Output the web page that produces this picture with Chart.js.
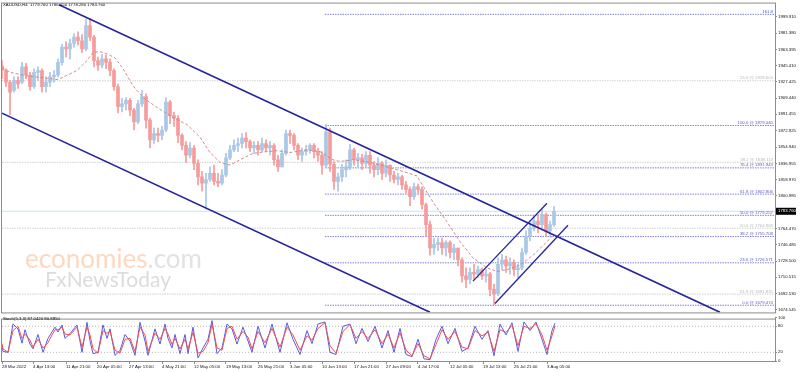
<!DOCTYPE html>
<html>
<head>
<meta charset="utf-8">
<script src="https://cdn.jsdelivr.net/npm/chart.js@4.4.0/dist/chart.umd.min.js"></script>
<style>
  html, body { margin: 0; padding: 0; background: #fff; }
  #wrap { position: relative; width: 800px; height: 372px; overflow: hidden; }
  #main { position: absolute; left: 0; top: 0; }
  #stoch { position: absolute; left: 0; top: 314px; }
</style>
</head>
<body>
<div id="wrap">
  <canvas id="main" width="800" height="316"></canvas>
  <canvas id="stoch" width="800" height="58"></canvas>
</div>
<script>
// XAUUSD H4, one candle here = 4 bars of the original chart
var opens = [1945,1940,1927,1918,1929,1927,1944,1935,1922,1938,
  1940,1922,1927,1933,1935,1949,1966,1964,1970,1977,
  1973,1964,1990,1977,1951,1946,1953,1949,1940,1922,
  1900,1903,1907,1896,1883,1903,1911,1885,1863,1870,
  1868,1874,1905,1890,1887,1868,1857,1846,1854,1837,
  1822,1815,1819,1826,1817,1815,1824,1843,1852,1857,
  1859,1865,1861,1854,1857,1852,1859,1854,1857,1841,
  1833,1848,1870,1868,1857,1846,1850,1852,1857,1850,
  1846,1835,1872,1836,1817,1822,1830,1833,1852,1841,
  1843,1837,1846,1835,1830,1837,1826,1835,1824,1819,
  1822,1813,1808,1800,1811,1808,1791,1769,1743,1747,
  1749,1743,1749,1738,1743,1730,1712,1708,1716,1714,
  1719,1712,1714,1697,1692,1725,1730,1723,1727,1719,
  1721,1738,1756,1765,1773,1769,1780,1762,1769];
var highs = [1951,1942,1929,1933,1933,1949,1948,1938,1942,1944,
  1942,1933,1938,1940,1953,1969,1972,1975,1981,1983,
  1980,1997,1998,1979,1955,1958,1957,1953,1942,1925,
  1909,1910,1909,1898,1907,1918,1914,1887,1876,1876,
  1878,1910,1907,1894,1890,1870,1861,1860,1857,1841,
  1828,1826,1833,1835,1826,1830,1848,1857,1863,1865,
  1870,1871,1863,1861,1861,1865,1863,1861,1859,1846,
  1852,1874,1874,1870,1859,1854,1857,1859,1859,1854,
  1850,1880,1876,1839,1826,1836,1841,1858,1854,1848,
  1847,1850,1850,1839,1843,1839,1841,1835,1828,1826,
  1824,1817,1811,1815,1814,1811,1793,1773,1754,1754,
  1754,1751,1751,1747,1743,1732,1721,1721,1725,1723,
  1721,1719,1716,1703,1732,1736,1734,1732,1730,1725,
  1743,1762,1771,1778,1780,1786,1782,1773,1789];
var lows = [1931,1922,1891,1916,1920,1925,1931,1918,1920,1929,
  1916,1916,1922,1927,1933,1946,1955,1953,1966,1968,
  1960,1962,1973,1944,1940,1943,1942,1934,1918,1893,
  1894,1896,1890,1874,1881,1900,1876,1854,1859,1861,
  1863,1872,1881,1878,1860,1852,1838,1843,1830,1813,
  1806,1786,1817,1813,1811,1813,1822,1841,1850,1850,
  1854,1854,1850,1848,1846,1850,1850,1846,1835,1828,
  1833,1846,1859,1852,1841,1839,1846,1848,1843,1839,
  1825,1833,1828,1808,1806,1817,1822,1830,1835,1833,
  1830,1833,1826,1822,1824,1819,1822,1817,1815,1813,
  1808,1804,1790,1797,1804,1786,1756,1735,1736,1740,
  1736,1734,1732,1730,1723,1705,1699,1703,1708,1710,
  1708,1705,1690,1680,1690,1719,1716,1714,1712,1710,
  1719,1736,1751,1762,1760,1765,1756,1756,1767];
var closes = [1940,1927,1916,1929,1925,1944,1935,1922,1938,1940,
  1922,1927,1933,1935,1949,1966,1964,1970,1977,1973,
  1964,1990,1977,1951,1946,1953,1949,1940,1922,1900,
  1903,1907,1896,1883,1903,1911,1885,1863,1870,1868,
  1874,1905,1890,1887,1868,1857,1846,1854,1837,1822,
  1815,1819,1826,1817,1815,1824,1843,1852,1857,1859,
  1865,1861,1854,1857,1852,1859,1854,1857,1841,1833,
  1848,1870,1868,1857,1846,1850,1852,1857,1850,1846,
  1835,1872,1836,1817,1822,1830,1833,1852,1841,1843,
  1837,1846,1835,1830,1837,1826,1835,1824,1819,1822,
  1813,1808,1800,1811,1808,1791,1769,1743,1747,1749,
  1743,1749,1738,1743,1730,1712,1708,1716,1714,1719,
  1712,1714,1697,1692,1725,1730,1723,1727,1719,1721,
  1738,1756,1765,1773,1769,1780,1762,1769,1783.76];

// moving average (dashed), sampled along the line: bar index / price
var maBars = [0,8,25,41,55,60,75,85,91,98,106,113,121,131,141,155,171,185,198,208,218,228,238,251,265,275,288,305,318,
  331,338,351,368,385,401,415,421,431,445,458,471,485,495,505,518,531,545,550];
var maValues = [1943,1938,1934,1932,1930,1932,1940,1951,1960,1961,1958,1954,1942,1923,1910,1899,1888,1880,1866,1849,1838,1835,1841,1848,1850,1851,1849,1852,1850,
  1841,1839,1841,1838,1833,1828,1823,1812,1794,1772,1750,1732,1721,1717,1719,1724,1735,1750,1756];

// stochastic (5,3,3)
var stochBars = [0,1,6,11,16,20,23,28,31,36,41,46,50,53,56,60,63,68,75,80,85,88,91,96,101,105,108,113,118,123,128,133,138,143,146,153,158,163,166,170,173,178,183,186,191,196,201,206,210,215,220,225,230,235,241,246,
  250,256,263,270,278,285,291,298,305,310,316,323,328,334,341,348,354,360,366,373,380,386,392,398,404,410,416,422,428,434,440,446,453,460,466,473,480,486,492,498,504,510,516,522,528,534,540,545,550,553];
var stochK = [35,22,20,85,74,41,72,39,28,61,20,52,67,78,67,83,52,63,83,20,89,46,17,20,83,52,74,13,24,61,46,13,89,46,13,74,39,85,52,30,61,17,61,17,78,7,30,50,93,17,30,85,74,39,78,46,
  20,80,30,85,20,88,50,15,70,40,85,90,20,15,80,85,40,75,45,80,30,70,20,75,15,10,50,5,3,50,80,40,75,22,30,80,50,70,12,85,60,88,22,90,70,90,50,15,70,87.04];
var stochD = [40,28,20,70,80,52,62,48,32,50,30,42,60,72,72,78,62,60,78,32,78,60,28,18,70,64,68,25,18,50,52,22,78,60,22,64,50,75,62,38,52,28,50,28,66,18,22,42,85,30,25,75,80,50,68,55,
  28,68,42,75,32,78,60,25,58,48,75,88,35,18,68,84,52,68,52,72,40,62,30,65,25,12,40,12,5,38,72,50,68,32,28,70,58,66,22,72,66,82,35,80,75,86,60,25,58,80.885];
var stochLevels = [20, 80];

// trend lines [bar, price]
var downUpper = [[57, 2012.9], [718, 1671.6]];
var downLower = [[0, 1892.7], [428, 1671.8]];
var upLower = [[493, 1681.4], [566, 1768.2]];
var upUpper = [[471, 1706.2], [545, 1792.7]];

// fibonacci levels
var fibLevels = ['0.0', '23.6', '38.2', '50.0', '61.8', '76.4', '100.0', '161.8'];
var fibPrices = [1679.474, 1726.571, 1755.708, 1779.257, 1802.806, 1831.943, 1879.040, 2002.372];
var fibStartBar = 323;
var grayLevels = ['23.6', '38.2', '50.0', '61.8'];
var grayPrices = [1928.604, 1838.113, 1764.969, 1691.835];

var priceTicks = [1999.910, 1981.380, 1963.395, 1945.410, 1927.425, 1909.440, 1891.455, 1872.925, 1854.940, 1836.955,
  1818.970, 1800.985, 1764.470, 1746.485, 1728.500, 1710.515, 1692.530, 1674.545];
var lastPrice = 1783.760;
var tickBars = [0, 31, 64, 95, 127, 160, 192, 224, 256, 288, 320, 352, 384, 416, 448, 481, 512, 545];
var dateLabels = ['28 Mar 2022', '4 Apr 13:00', '11 Apr 21:00', '20 Apr 05:00', '27 Apr 13:00', '4 May 21:00',
  '12 May 05:00', '19 May 13:00', '26 May 21:00', '3 Jun 05:00', '10 Jun 13:00', '17 Jun 21:00', '27 Jun 09:00',
  '4 Jul 17:00', '12 Jul 05:00', '19 Jul 13:00', '26 Jul 21:00', '3 Aug 05:00'];

var X_MAX = 773;
var Y_MIN = 1671.5, Y_MAX = 2014.3;
var UP = '#a9c7e6', DOWN = '#f79a9a';
var NAVY = '#26269a', FIB_BLUE = '#8282da', FIB_GRAY = '#d0d0d0';
var FONT = '"Liberation Sans", Arial, sans-serif';

function pts(pairs) {
  return pairs.map(function (p) { return { x: p[0], y: p[1] }; });
}
function lineDs(data, color, width, dash, order) {
  return { type: 'line', data: data, borderColor: color, borderWidth: width, borderDash: dash || [],
    pointRadius: 0, fill: false, tension: 0, order: order };
}

var candleColors = opens.map(function (o, i) { return closes[i] >= o ? UP : DOWN; });
var wickData = highs.map(function (h, i) { return { x: i * 4, y: [lows[i], h] }; });
var bodyData = opens.map(function (o, i) { return { x: i * 4, y: [o, closes[i]] }; });

var datasets = [
  lineDs(pts(downUpper), NAVY, 1.6, [], 0),
  lineDs(pts(downLower), NAVY, 1.6, [], 0),
  lineDs(pts(upLower), NAVY, 1.3, [], 0),
  lineDs(pts(upUpper), NAVY, 1.3, [], 0),
  lineDs(maBars.map(function (b, i) { return { x: b, y: maValues[i] }; }), '#c88282', 0.9, [3, 2], 1),
  { type: 'bar', data: bodyData, backgroundColor: candleColors, barThickness: 3, grouped: false, borderWidth: 0, order: 2 },
  { type: 'bar', data: wickData, backgroundColor: candleColors, barThickness: 1, grouped: false, borderWidth: 0, order: 3 },
  lineDs([{ x: 0, y: lastPrice }, { x: X_MAX, y: lastPrice }], '#bfe6ee', 1, [], 4)
];
fibPrices.forEach(function (p) {
  datasets.push(lineDs([{ x: fibStartBar, y: p }, { x: X_MAX, y: p }], FIB_BLUE, 1, [1.5, 1], 5));
});
grayPrices.forEach(function (p) {
  datasets.push(lineDs([{ x: 0, y: p }, { x: X_MAX, y: p }], FIB_GRAY, 1, [1.5, 1], 6));
});

// watermark behind the candles
var watermark = {
  id: 'watermark',
  beforeDatasetsDraw: function (chart) {
    var ctx = chart.ctx;
    ctx.save();
    ctx.textBaseline = 'alphabetic';
    ctx.textAlign = 'left';
    ctx.font = '26px Lato';
    ctx.fillStyle = '#fdd8c0';
    ctx.fillText('economies', 25, 268);
    var w = ctx.measureText('economies').width;
    ctx.fillStyle = '#e2e2e2';
    ctx.fillText('.com', 25 + w, 268);
    ctx.font = '21px Lato';
    ctx.fillStyle = '#dcdcdc';
    ctx.fillText('FxNewsToday', 45, 287);
    ctx.restore();
  }
};

var mainDecor = {
  id: 'mainDecor',
  afterDraw: function (chart) {
    var ctx = chart.ctx, ca = chart.chartArea, y = chart.scales.y;
    ctx.save();
    ctx.font = '4.3px ' + FONT;
    ctx.textAlign = 'right';
    ctx.textBaseline = 'bottom';
    fibPrices.forEach(function (p, i) {
      var txt = fibLevels[i] === '161.8' ? '161.8' : fibLevels[i] + ' @ ' + p.toFixed(3);
      ctx.fillStyle = '#5a5ac4';
      ctx.fillText(txt, ca.right - 2, y.getPixelForValue(p) - 0.5);
    });
    grayPrices.forEach(function (p, i) {
      ctx.fillStyle = '#b8b8b8';
      ctx.fillText(grayLevels[i] + ' @ ' + p.toFixed(3), ca.right - 2, y.getPixelForValue(p) - 0.5);
    });
    // header
    ctx.textAlign = 'left';
    ctx.textBaseline = 'middle';
    ctx.fillStyle = '#000';
    ctx.fillText('XAUUSD,H4  1779.760 1786.050 1778.280 1783.760', 3, 5);
    // frame
    ctx.strokeStyle = '#8c8c8c';
    ctx.lineWidth = 1;
    ctx.strokeRect(ca.left - 0.5, ca.top - 0.5, ca.right - ca.left + 1, ca.bottom - ca.top + 1);
    // current price box
    var py = y.getPixelForValue(lastPrice);
    ctx.fillStyle = '#000';
    ctx.fillRect(ca.right + 1, py - 3.5, 20, 7);
    ctx.fillStyle = '#fff';
    ctx.fillText(lastPrice.toFixed(3), ca.right + 3, py);
    ctx.restore();
  }
};

new Chart(document.getElementById('main'), {
  type: 'bar',
  data: { datasets: datasets },
  options: {
    responsive: false, animation: false, devicePixelRatio: 1, events: [],
    layout: { padding: { left: 2, top: 2, right: 0, bottom: 1 } },
    plugins: { legend: { display: false }, tooltip: { enabled: false } },
    scales: {
      x: { type: 'linear', min: 0, max: X_MAX, display: false, offset: false },
      y: {
        position: 'right', min: Y_MIN, max: Y_MAX,
        afterBuildTicks: function (s) { s.ticks = priceTicks.map(function (v) { return { value: v }; }); },
        afterFit: function (s) { s.width = 25; },
        ticks: { autoSkip: false, padding: 1, color: '#111', font: { size: 4.3, family: FONT },
          callback: function (v) { return Number(v).toFixed(3); } },
        grid: { drawOnChartArea: false, tickLength: 2, color: '#8c8c8c' },
        border: { color: '#8c8c8c' }
      }
    }
  },
  plugins: [watermark, mainDecor]
});

// stochastic panel
var stochDecor = {
  id: 'stochDecor',
  afterDraw: function (chart) {
    var ctx = chart.ctx, ca = chart.chartArea;
    ctx.save();
    ctx.strokeStyle = '#8c8c8c';
    ctx.lineWidth = 1;
    ctx.strokeRect(ca.left - 0.5, ca.top + 1.5, ca.right - ca.left + 1, ca.bottom - ca.top - 1);
    ctx.font = '4.3px ' + FONT;
    ctx.fillStyle = '#000';
    ctx.textBaseline = 'middle';
    ctx.fillText('Stoch(5,3,3) 87.0420 80.8850', 3, 5);
    ctx.restore();
  }
};

var stochSets = [
  lineDs(stochBars.map(function (b, i) { return { x: b, y: stochD[i] }; }), '#f25050', 1, [], 0),
  lineDs(stochBars.map(function (b, i) { return { x: b, y: stochK[i] }; }), '#5a5ae6', 1, [], 1)
];
stochLevels.forEach(function (v) {
  stochSets.push(lineDs([{ x: 0, y: v }, { x: X_MAX, y: v }], '#b8b8b8', 1, [1, 2], 2));
});

new Chart(document.getElementById('stoch'), {
  type: 'line',
  data: { datasets: stochSets },
  options: {
    responsive: false, animation: false, devicePixelRatio: 1, events: [],
    layout: { padding: { left: 2, top: 1, right: 0, bottom: 0 } },
    plugins: { legend: { display: false }, tooltip: { enabled: false } },
    scales: {
      x: {
        type: 'linear', min: 0, max: X_MAX, offset: false,
        afterBuildTicks: function (s) { s.ticks = tickBars.map(function (v) { return { value: v }; }); },
        afterFit: function (s) { s.height = 11; },
        ticks: { autoSkip: false, maxRotation: 0, align: 'start', padding: 0, color: '#111',
          font: { size: 4.3, family: FONT },
          callback: function (v, i) { return dateLabels[i]; } },
        grid: { drawOnChartArea: false, tickLength: 3, color: '#8c8c8c' },
        border: { color: '#8c8c8c' }
      },
      y: {
        position: 'right', min: 0, max: 100,
        afterBuildTicks: function (s) { s.ticks = [0, 20, 80, 100].map(function (v) { return { value: v }; }); },
        afterFit: function (s) { s.width = 25; },
        ticks: { autoSkip: false, padding: 1, color: '#111', font: { size: 4.3, family: FONT } },
        grid: { drawOnChartArea: false, tickLength: 2, color: '#8c8c8c' },
        border: { color: '#8c8c8c' }
      }
    }
  },
  plugins: [stochDecor]
});
</script>
</body>
</html>
